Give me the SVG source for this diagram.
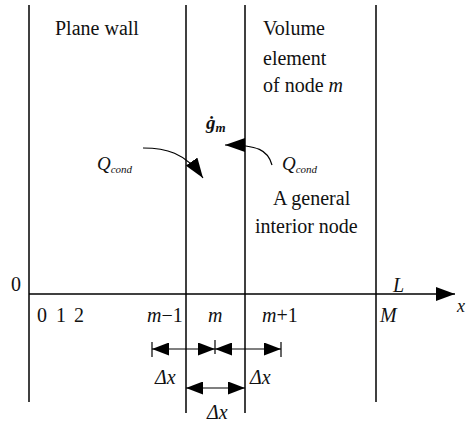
<svg xmlns="http://www.w3.org/2000/svg" width="468" height="426" viewBox="0 0 468 426">
  <style>
    .ln { stroke: #000; stroke-width: 1.5; fill: none; }
    .thin { stroke: #000; stroke-width: 1.2; fill: none; }
    .t { font-family: "Liberation Serif", "DejaVu Serif", serif; font-size: 20px; fill: #111; }
    .i { font-family: "Liberation Serif", "DejaVu Serif", serif; font-style: italic; fill: #111; }
  </style>
  <defs>
    <marker id="dim" markerUnits="userSpaceOnUse" markerWidth="17" markerHeight="13" refX="17" refY="6.5" orient="auto-start-reverse">
      <path d="M0,0 L17,6.5 L0,13 z" fill="#000"/>
    </marker>
    <marker id="ax" markerUnits="userSpaceOnUse" markerWidth="19" markerHeight="14" refX="19" refY="7" orient="auto">
      <path d="M0,0 L19,7 L0,14 z" fill="#000"/>
    </marker>
    <marker id="cv" markerUnits="userSpaceOnUse" markerWidth="20" markerHeight="14" refX="20" refY="7" orient="auto">
      <path d="M0,0 L20,7 L0,14 z" fill="#000"/>
    </marker>
  </defs>

  <rect width="468" height="426" fill="#fff"/>

  <g id="walls">
    <line class="ln" x1="29" y1="5" x2="29" y2="402"/>
    <line class="ln" x1="186" y1="5" x2="186" y2="413"/>
    <line class="ln" x1="245" y1="5" x2="245" y2="413"/>
    <line class="ln" x1="376" y1="5" x2="376" y2="402"/>
  </g>

  <g id="connectors">
    <line class="ln" x1="29" y1="294" x2="455" y2="294" marker-end="url(#ax)"/>
    <line class="thin" x1="152" y1="349" x2="215" y2="349" marker-start="url(#dim)" marker-end="url(#dim)"/>
    <line class="thin" x1="215" y1="349" x2="281" y2="349" marker-start="url(#dim)" marker-end="url(#dim)"/>
    <line class="thin" x1="152" y1="342" x2="152" y2="357"/>
    <line class="thin" x1="215" y1="340" x2="215" y2="354"/>
    <line class="thin" x1="281" y1="342" x2="281" y2="357"/>
    <line class="thin" x1="186" y1="388" x2="245" y2="388" marker-start="url(#dim)" marker-end="url(#dim)"/>
    <path class="thin" d="M143,148 C165,148 185,152 203,178" marker-end="url(#cv)"/>
    <path class="thin" d="M272,165 C268,150 258,145 225,145" marker-end="url(#cv)"/>
  </g>

  <g id="labels">
    <text class="t" x="55" y="35">Plane wall</text>
    <text class="t" x="263" y="35">Volume</text>
    <text class="t" x="263" y="65">element</text>
    <text class="t" x="263" y="92">of node <tspan font-style="italic">m</tspan></text>
    <text class="t" x="273" y="205">A general</text>
    <text class="t" x="255" y="233">interior node</text>

    <text class="i" x="206" y="129" font-size="19" font-weight="bold">ġ<tspan font-size="13" dy="3">m</tspan></text>
    <text class="i" x="97" y="170" font-size="19">Q<tspan font-size="11" dy="3">cond</tspan></text>
    <text class="i" x="282" y="170" font-size="19">Q<tspan font-size="11" dy="3">cond</tspan></text>

    <text class="t" x="11" y="291">0</text>
    <text class="t" x="37" y="322">0</text>
    <text class="t" x="56" y="322">1</text>
    <text class="t" x="74" y="322">2</text>
    <text class="t" x="147" y="322"><tspan font-style="italic">m</tspan>−1</text>
    <text class="i" x="208" y="322" font-size="20">m</text>
    <text class="t" x="262" y="322"><tspan font-style="italic">m</tspan>+1</text>
    <text class="i" x="380" y="322" font-size="20">M</text>
    <text class="i" x="393" y="292" font-size="20">L</text>
    <text class="i" x="457" y="312" font-size="18">x</text>

    <text class="i" x="155" y="384" font-size="20">Δx</text>
    <text class="i" x="250" y="384" font-size="20">Δx</text>
    <text class="i" x="207" y="419" font-size="20">Δx</text>
  </g>
</svg>
